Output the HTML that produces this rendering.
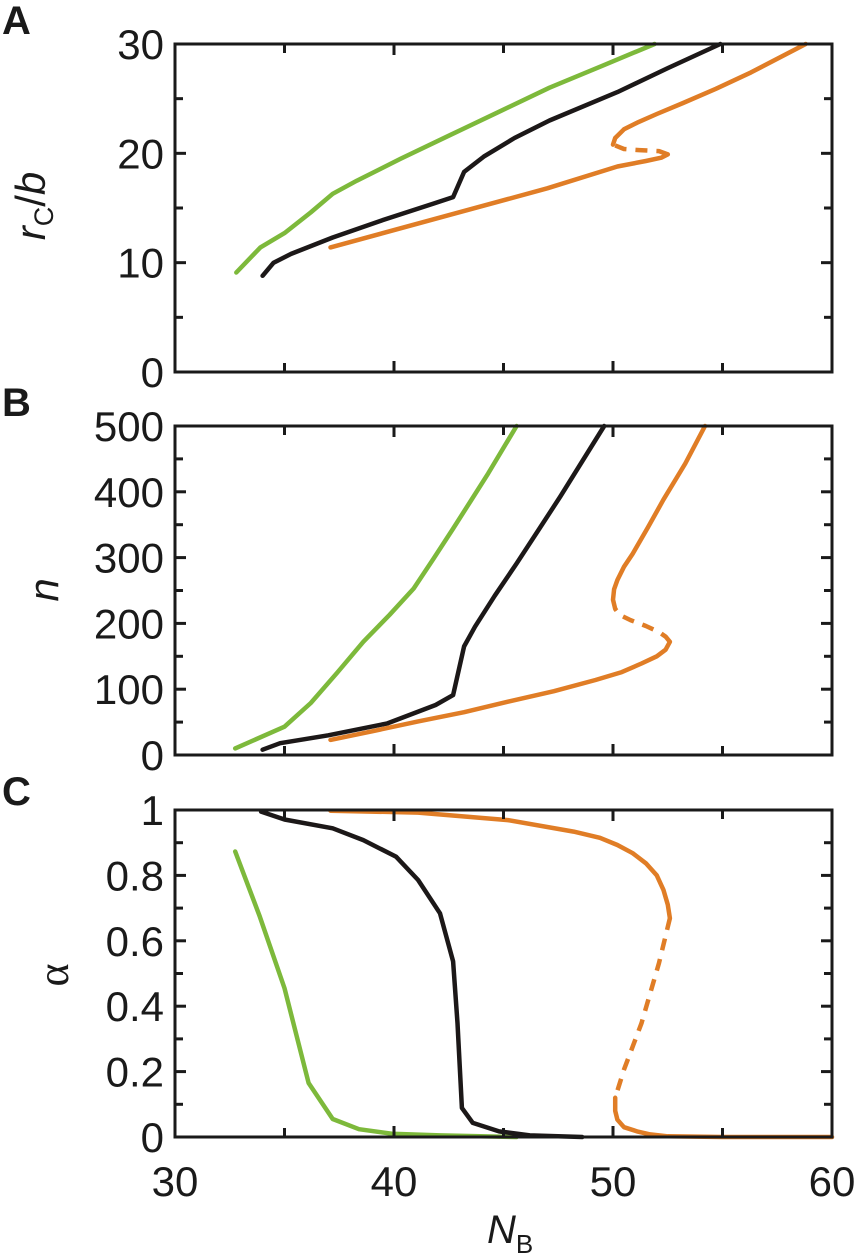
<!DOCTYPE html>
<html><head><meta charset="utf-8"><style>
body{margin:0;background:#fff}
svg{display:block;font-family:"Liberation Sans",Arial,sans-serif}
</style></head><body>
<svg id="fig" width="859" height="1258" viewBox="0 0 859 1258"></svg>
<script>
// ---- data (N_B values and y values) ----
const xTicks=[30,40,50,60];
const aTicks=[0,10,20,30];
const bTicks=[0,100,200,300,400,500];
const cTicks=[0,0.2,0.4,0.6,0.8,1];
const cTickLabels=["0","0.2","0.4","0.6","0.8","1"];
// Panel A: rc/b
const aGreenN=[32.8,33.9,35,36.2,37.2,38.3,40.3,42.6,44.9,47.1,49.5,51.9];
const aGreenV=[9.1,11.4,12.7,14.6,16.3,17.5,19.5,21.7,23.9,26.0,28.0,30];
const aBlackN=[34,34.5,35.3,37.2,39.5,41.8,42.7,43.2,44.1,45.5,47.1,50.2,52.5,54.9];
const aBlackV=[8.8,10,10.8,12.3,13.9,15.4,16.0,18.3,19.7,21.4,23.0,25.6,27.8,30];
const aOrLowN=[37.1,42.6,47,50.2,51.5,52.2,52.5];
const aOrLowV=[11.4,14.4,16.8,18.8,19.3,19.6,19.9];
const aOrDashN=[52.5,52.1,51.2,50.5,50.0];
const aOrDashV=[19.9,20.2,20.3,20.4,20.8];
const aOrUpN=[50.0,50.1,50.5,51.1,52,53.2,54.7,56.3,58.8];
const aOrUpV=[20.8,21.4,22.2,22.8,23.6,24.6,25.9,27.4,30];
// Panel B: n
const bGreenN=[32.75,35,36.2,37.4,38.6,39.8,40.9,41.8,42.7,43.5,44.3,45.6];
const bGreenV=[10,43,79,125,172,213,253,298,344,386,428,500];
const bBlackN=[34,34.8,37,39.7,41.9,42.7,43.2,43.7,44.6,45.6,46.6,47.6,49.6];
const bBlackV=[8,18,30,48,76,91,165,195,242,291,342,393,500];
const bOrLowN=[37.1,39,41.1,43.2,45.2,47.3,49.2,50.4,51.3,52.0,52.4,52.6];
const bOrLowV=[23,36,51,65,81,97,114,126,139,150,160,172];
const bOrDashN=[52.6,52.4,52.1,51.5,50.8,50.3,50.1];
const bOrDashV=[172,180,187,196,205,213,222];
const bOrUpN=[50.1,50.0,50.05,50.2,50.5,50.9,51.6,52.3,53.3,54.2];
const bOrUpV=[222,236,252,266,286,306,346,388,443,500];
// Panel C: alpha
const cGreenN=[32.75,33.87,35,36.1,37.2,38.4,39.9,42.1,45.6];
const cGreenV=[0.873,0.674,0.455,0.165,0.055,0.024,0.01,0.005,0];
const cBlackN=[33.93,35,37.2,38.6,40.1,41.1,42.1,42.7,42.9,43.1,43.6,44.8,46.2,48.6];
const cBlackV=[0.995,0.971,0.944,0.908,0.857,0.786,0.684,0.537,0.348,0.089,0.043,0.017,0.005,0];
const cOrUpN=[37.1,41.1,45.2,48.2,49.4,50.2,50.9,51.5,52.0,52.3,52.5,52.6];
const cOrUpV=[0.998,0.992,0.969,0.934,0.915,0.893,0.868,0.837,0.80,0.756,0.71,0.669];
const cOrDashN=[52.6,52.1,51.3,50.5,50.1];
const cOrDashV=[0.669,0.532,0.348,0.206,0.12];
const cOrLowN=[50.1,50.1,50.2,50.5,51.1,51.7,52.5,55,60];
const cOrLowV=[0.12,0.08,0.053,0.03,0.017,0.008,0.002,0,0];

const NS="http://www.w3.org/2000/svg";
const svg=document.getElementById('fig');
const X0=175,X1=832;
function xs(n){return X0+(n-30)/30*(X1-X0);}
function mk(tag,attrs,parent){const e=document.createElementNS(NS,tag);for(const k in attrs)e.setAttribute(k,attrs[k]);(parent||svg).appendChild(e);return e;}
const GREEN="#7db93b",BLACK="#1c1818",ORANGE="#e07d26";

function panel(key,top,bot,vmax,ticks,labels,minorStep,series){
  const g=mk('g',{});
  
  
  const ys=v=>bot-(v/vmax)*(bot-top);
  series.forEach(s=>{
    const p=s.n.map((n,i)=>xs(n).toFixed(1)+','+ys(s.v[i]).toFixed(1)).join(' ');
    const pl=mk('polyline',{points:p,fill:'none',stroke:s.c,'stroke-width':4.5,'stroke-linejoin':'round','stroke-linecap':s.dash?'butt':'round'},g);
    if(s.dash)pl.setAttribute('stroke-dasharray','12 9');
    
    
  });
  const fr=mk('rect',{x:X0,y:top,width:X1-X0,height:bot-top,fill:'none',stroke:'#1a1a1a','stroke-width':3},g);
  
  
  for(let n=35;n<60;n+=5){
    const L=(n%10===0)?11:9;
    mk('line',{x1:xs(n),x2:xs(n),y1:bot,y2:bot-L,stroke:'#1a1a1a','stroke-width':3},g);
    mk('line',{x1:xs(n),x2:xs(n),y1:top,y2:top+L,stroke:'#1a1a1a','stroke-width':3},g);
  }
  for(let v=minorStep;v<vmax-1e-9;v+=minorStep){
    const major=ticks.some(t=>Math.abs(t-v)<1e-9);
    const L=major?11:8;
    mk('line',{x1:X0,x2:X0+L,y1:ys(v),y2:ys(v),stroke:'#1a1a1a','stroke-width':3},g);
    mk('line',{x1:X1,x2:X1-L,y1:ys(v),y2:ys(v),stroke:'#1a1a1a','stroke-width':3},g);
  }
  ticks.forEach((t,i)=>{
    const tx=mk('text',{x:164,y:ys(t)+15,'text-anchor':'end','font-size':42,fill:'#1a1a1a'},g);
    tx.textContent=labels[i];
    
    
  });
  return ys;
}

panel('a',44,372,30,aTicks,aTicks.map(String),5,[
 {n:aGreenN,v:aGreenV,c:GREEN,name:'series-green-a'},
 {n:aBlackN,v:aBlackV,c:BLACK,name:'series-black-a'},
 {n:aOrLowN,v:aOrLowV,c:ORANGE,name:'series-orange-lower-a'},
 {n:aOrDashN,v:aOrDashV,c:ORANGE,dash:true,name:'series-orange-unstable-a'},
 {n:aOrUpN,v:aOrUpV,c:ORANGE,name:'series-orange-upper-a'}]);
panel('b',426,755,500,bTicks,bTicks.map(String),50,[
 {n:bGreenN,v:bGreenV,c:GREEN,name:'series-green-b'},
 {n:bBlackN,v:bBlackV,c:BLACK,name:'series-black-b'},
 {n:bOrLowN,v:bOrLowV,c:ORANGE,name:'series-orange-lower-b'},
 {n:bOrDashN,v:bOrDashV,c:ORANGE,dash:true,name:'series-orange-unstable-b'},
 {n:bOrUpN,v:bOrUpV,c:ORANGE,name:'series-orange-upper-b'}]);
panel('c',810,1137,1,cTicks,cTickLabels,0.1,[
 {n:cGreenN,v:cGreenV,c:GREEN,name:'series-green-c'},
 {n:cBlackN,v:cBlackV,c:BLACK,name:'series-black-c'},
 {n:cOrUpN,v:cOrUpV,c:ORANGE,name:'series-orange-upper-c'},
 {n:cOrDashN,v:cOrDashV,c:ORANGE,dash:true,name:'series-orange-unstable-c'},
 {n:cOrLowN,v:cOrLowV,c:ORANGE,name:'series-orange-lower-c'}]);

xTicks.forEach(t=>{
  const tx=mk('text',{x:xs(t),y:1196,'text-anchor':'middle','font-size':42,fill:'#1a1a1a'});
  tx.textContent=String(t);
  
  
});
</script>
<svg width="859" height="1258" style="position:absolute;left:0;top:0">
 <g font-family="Liberation Sans, Arial, sans-serif" fill="#1a1a1a">
  <text x="2" y="34" font-size="40" font-weight="bold">A</text>
  <text x="2" y="416" font-size="40" font-weight="bold">B</text>
  <text x="2" y="805" font-size="40" font-weight="bold">C</text>
  <text transform="translate(45,206) rotate(-90)" text-anchor="middle" font-size="42"><tspan font-style="italic">r</tspan><tspan font-size="27" dy="8">C</tspan><tspan dy="-8">/</tspan><tspan font-style="italic">b</tspan></text>
  <text transform="translate(58,590) rotate(-90)" text-anchor="middle" font-size="42" font-style="italic">n</text>
  <text transform="translate(68,975) rotate(-90)" text-anchor="middle" font-size="44" font-family="Liberation Serif, serif">α</text>
  <text x="487" y="1243" font-size="40"><tspan font-style="italic">N</tspan><tspan font-size="26" dy="10">B</tspan></text>
 </g>
</svg>
</body></html>
